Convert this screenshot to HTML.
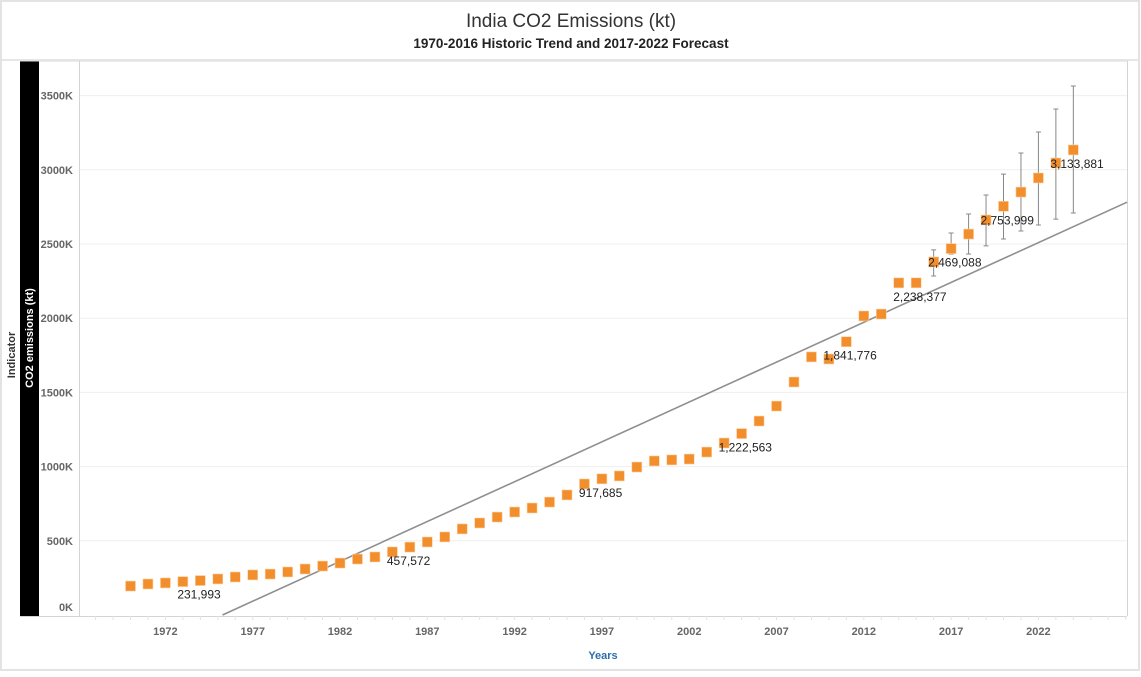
<!DOCTYPE html>
<html><head><meta charset="utf-8">
<style>
html,body{margin:0;padding:0;background:#fff;}
body{width:1141px;height:672px;overflow:hidden;font-family:"Liberation Sans",sans-serif;}
svg text{font-family:"Liberation Sans",sans-serif;}
</style></head>
<body>
<svg id="chart" width="1141" height="672" xmlns="http://www.w3.org/2000/svg">
<rect x="1" y="1" width="1138" height="669" fill="#fff" stroke="#e3e3e3" stroke-width="2"/>
<text x="571" y="27" text-anchor="middle" font-size="19" fill="#333">India CO2 Emissions (kt)</text>
<text x="571" y="48" text-anchor="middle" font-size="13.5" font-weight="bold" fill="#222">1970-2016 Historic Trend and 2017-2022 Forecast</text>
<rect x="2" y="59" width="1137" height="2" fill="#e6e6e6"/>
<text transform="translate(15,355) rotate(-90)" text-anchor="middle" font-size="11" font-weight="bold" fill="#333">Indicator</text>
<rect x="20" y="61" width="19" height="555" fill="#000"/>
<text transform="translate(33,338) rotate(-90)" text-anchor="middle" font-size="11" font-weight="bold" fill="#fff">CO2 emissions (kt)</text>
<line x1="20" y1="61" x2="1127" y2="61" stroke="#ddd"/>
<line x1="79.5" y1="61" x2="79.5" y2="616" stroke="#d4d4d4"/>
<line x1="1127.5" y1="61" x2="1127.5" y2="616" stroke="#d4d4d4"/>
<line x1="20" y1="616.5" x2="1127" y2="616.5" stroke="#d4d4d4"/>
<g id="grid"></g><g id="yticks"></g><g id="xticks"></g><g id="trend"></g><g id="errs"></g><g id="pts"></g><g id="lbls"></g>
<text x="603" y="659" text-anchor="middle" font-size="11" font-weight="bold" fill="#2a6fad">Years</text>
</svg>
<script>
const years = [];
for (let y = 1970; y <= 2024; y++) years.push(y);
const emissions = [195000,209000,216000,225000,231993,243000,256000,270000,276000,290000,310000,330000,350000,377000,391000,425000,457572,492000,526000,580000,620000,660000,694000,721000,761000,809000,883000,917685,937000,997000,1038000,1045000,1051000,1098000,1159000,1222563,1307000,1408000,1570000,1739000,1725000,1841776,2015000,2028000,2238000,2238377,2379000,2469088,2567000,2662000,2753999,2850000,2945000,3046000,3133881];
const errYears = [2016,2017,2018,2019,2020,2021,2022,2023,2024];
const errHigh = [2460000,2574000,2702000,2830000,2971000,3113000,3255000,3410000,3565000];
const errLow = [2284000,2433000,2433000,2487000,2534000,2588000,2628000,2668000,2709000];
const labelYears = [1974,1986,1997,2005,2011,2015,2017,2020,2024];
const labelText = ["231,993","457,572","917,685","1,222,563","1,841,776","2,238,377","2,469,088","2,753,999","3,133,881"];
const yTicks = [0,500000,1000000,1500000,2000000,2500000,3000000,3500000];
const yTickLabels = ["0K","500K","1000K","1500K","2000K","2500K","3000K","3500K"];
const xTicks = [1972,1977,1982,1987,1992,1997,2002,2007,2012,2017,2022];
const trendSlope = 53700;
const trendIntercept1970 = -283000;

const NS = "http://www.w3.org/2000/svg";
const X0 = 80, X1 = 1127, Y0 = 61, Y1 = 616;
function xs(yr){ return 130.5 + (yr - 1970) * 17.46; }
function ys(v){ return 615 - v / 500000 * 74.2; }
function mk(tag, attrs, parent){
  const e = document.createElementNS(NS, tag);
  for (const k in attrs) e.setAttribute(k, attrs[k]);
  document.getElementById(parent).appendChild(e);
  return e;
}
yTicks.forEach((v, i) => {
  if (v > 0) {
    const g = mk("line", {x1:X0, x2:X1, y1:ys(v), y2:ys(v), stroke:"#efefef"}, "grid");
    
    
  }
  const t = mk("text", {x:73, y:Math.min(ys(v) + 4, 611), "text-anchor":"end", "font-size":"11", fill:"#666", "font-weight":"bold"}, "yticks");
  t.textContent = yTickLabels[i];
  
  
});
for (let yr = 1968; yr <= 2027; yr++) {
  const x = xs(yr);
  if (x > X0 && x < X1) {
    const m = mk("line", {x1:x, x2:x, y1:616, y2:620, stroke:"#e2e2e2"}, "xticks");
    
    
  }
}
xTicks.forEach(yr => {
  const t = mk("text", {x:xs(yr), y:635, "text-anchor":"middle", "font-size":"11", fill:"#666", "font-weight":"bold"}, "xticks");
  t.textContent = yr;
  
  
});
function trendAt(yr){ return trendIntercept1970 + trendSlope * (yr - 1970); }
const yrA = 1970 + (-trendIntercept1970) / trendSlope;
const yrB = 1970 + (X1 - 130.5) / 17.46;
const tl = mk("line", {x1:xs(yrA), y1:ys(trendAt(yrA)), x2:xs(yrB), y2:ys(trendAt(yrB)), stroke:"#8f8f8f", "stroke-width":"1.6"}, "trend");


errYears.forEach((yr, i) => {
  const x = xs(yr), a = ys(errHigh[i]), b = ys(errLow[i]);
  const l = mk("path", {d:`M${x},${a}V${b}M${x-2.5},${a}H${x+2.5}M${x-2.5},${b}H${x+2.5}`, stroke:"#888", "stroke-width":"1", fill:"none"}, "errs");
  
  
});
years.forEach((yr, i) => {
  const r = mk("rect", {x:xs(yr) - 5, y:ys(emissions[i]) - 5, width:10, height:10, fill:"#f28e2b", stroke:"#fbd3a9", "stroke-width":"0.6"}, "pts");
  
  
});
labelYears.forEach((yr, i) => {
  const v = emissions[years.indexOf(yr)];
  const t = mk("text", {x:xs(yr) - 23, y:ys(v) + 18, "font-size":"12", fill:"#222"}, "lbls");
  t.textContent = labelText[i];
  
  
});
</script>
</body></html>
